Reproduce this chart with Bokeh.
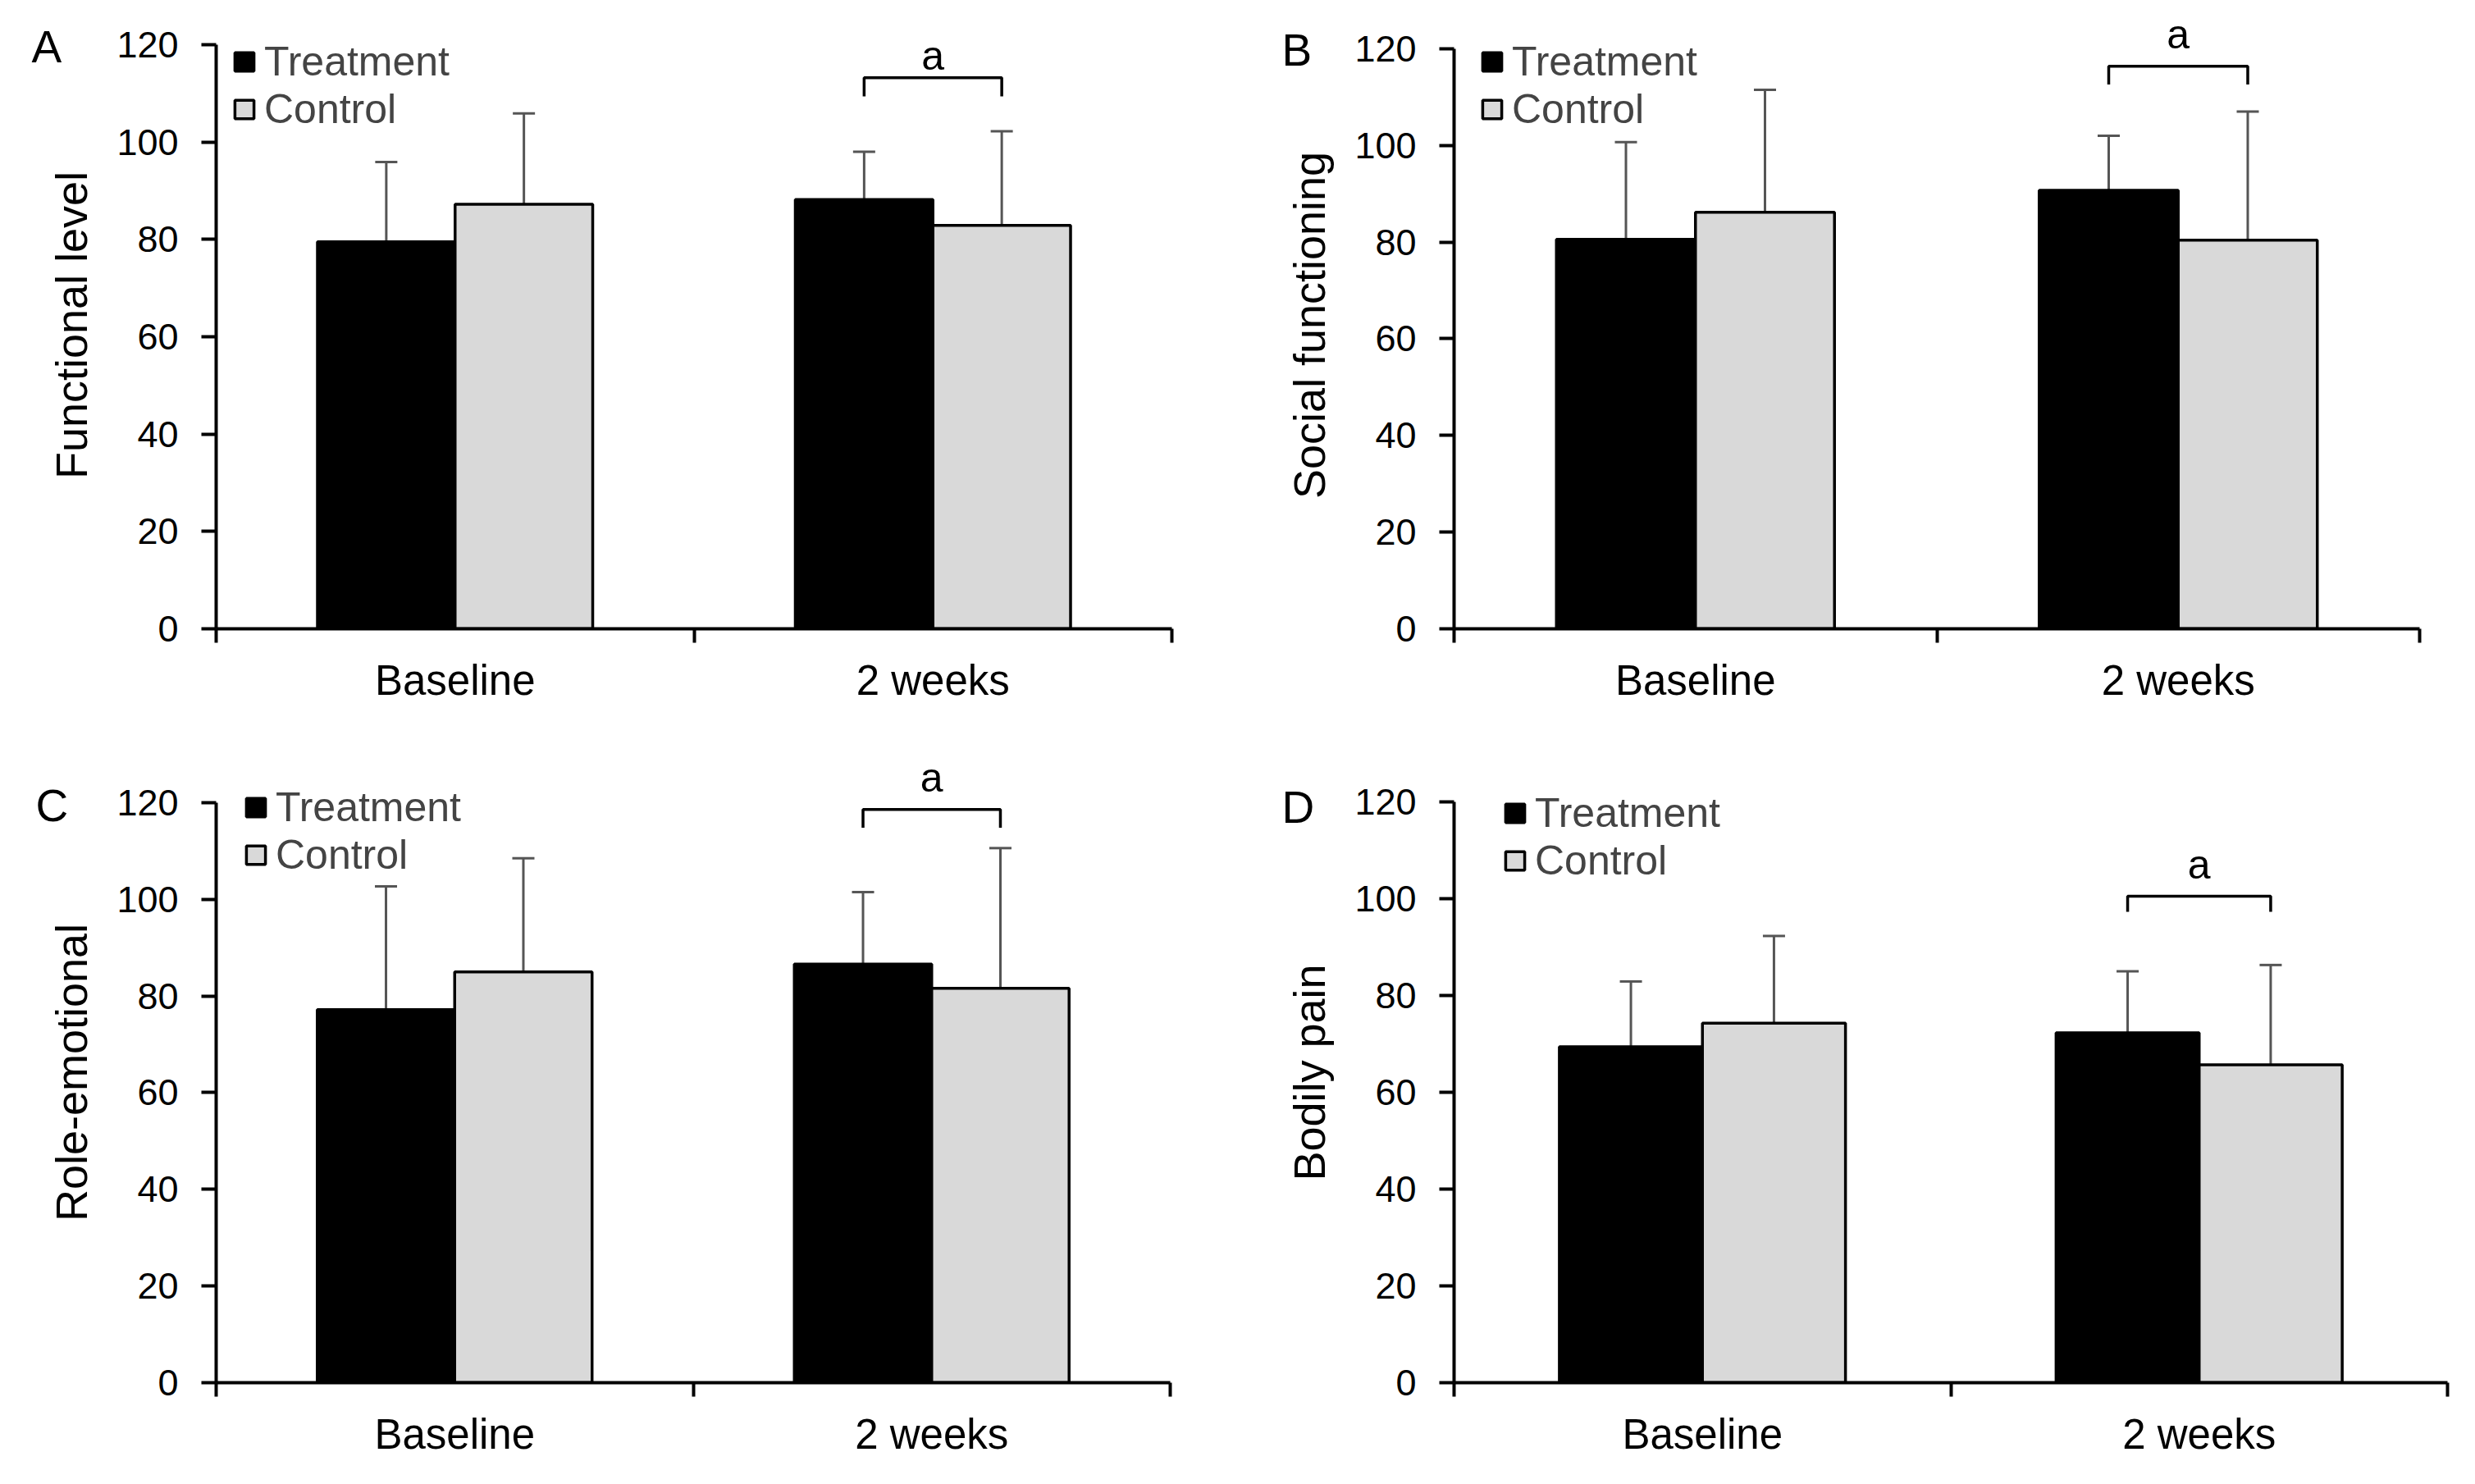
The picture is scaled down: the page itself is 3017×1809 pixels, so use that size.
from bokeh.plotting import figure
from bokeh.layouts import column, row
from bokeh.models import (FixedTicker, Range1d, Legend, LegendItem, Label,
                          ColumnDataSource, Whisker, TeeHead)
from bokeh.embed import file_html
from bokeh.resources import INLINE
from bokeh.core.properties import value

# ---------------- data ----------------
categories = ["Baseline", "2 weeks"]
series = ["Treatment", "Control"]
y_ticks = [0, 20, 40, 60, 80, 100, 120]

# A: Functional level
a_treatment = [79.5, 88.2]
a_treatment_sd = [16.4, 9.8]
a_control = [87.2, 82.9]
a_control_sd = [18.7, 19.3]

# B: Social functioning
b_treatment = [80.6, 90.7]
b_treatment_sd = [20.1, 11.3]
b_control = [86.2, 80.4]
b_control_sd = [25.3, 26.6]

# C: Role-emotional
c_treatment = [77.2, 86.6]
c_treatment_sd = [25.5, 14.9]
c_control = [85.0, 81.6]
c_control_sd = [23.5, 29.0]

# D: Bodily pain
d_treatment = [69.4, 72.3]
d_treatment_sd = [13.5, 12.7]
d_control = [74.3, 65.7]
d_control_sd = [18.0, 20.6]

panel_letters = ["A", "B", "C", "D"]
y_labels = ["Functional level", "Social functioning", "Role-emotional", "Bodily pain"]
# significance bracket ("a") at 2 weeks: bracket height, leg length, label height
bracket_top = [113.2, 116.4, 118.6, 100.5]
bracket_leg = [3.8, 3.8, 3.8, 3.2]
bracket_label_y = [117.8, 123.0, 125.2, 107.0]
sig_label = "a"

FONT = "Liberation Sans"
TICK_FS = "45px"
CAT_FS = "51px"
LEG_FS = "50px"
TITLE_FS = "54px"
TREAT_COLOR = "#000000"
CTRL_COLOR = "#d9d9d9"
ERR_COLOR = "#555555"
BAR_W = 0.288
OFFSET = 0.144

# per panel geometry: size, borders, y-range end, legend position, panel-letter position (canvas px)
layout = [
    dict(w=1508, h=904, l=263, r=80, t=26, b=138, yend=124.72, leg=(20, 604), letter=(38, 56)),
    dict(w=1500, h=904, l=264, r=59, t=26, b=138, yend=125.60, leg=(32, 604), letter=(54, 60)),
    dict(w=1508, h=897, l=263, r=82, t=25, b=116, yend=128.31, leg=(34, 614), letter=(43, 77)),
    dict(w=1500, h=897, l=264, r=25, t=25, b=116, yend=128.14, leg=(60, 607), letter=(54, 79)),
]

panels_data = [
    (a_treatment, a_treatment_sd, a_control, a_control_sd),
    (b_treatment, b_treatment_sd, b_control, b_control_sd),
    (c_treatment, c_treatment_sd, c_control, c_control_sd),
    (d_treatment, d_treatment_sd, d_control, d_control_sd),
]


def make_panel(i):
    t, tsd, c, csd = panels_data[i]
    L = layout[i]
    p = figure(width=L["w"], height=L["h"], output_backend="svg", toolbar_location=None,
               x_range=Range1d(0, len(categories)), y_range=Range1d(0, L["yend"]),
               min_border_left=L["l"], min_border_right=L["r"],
               min_border_top=L["t"], min_border_bottom=L["b"])
    p.outline_line_color = None
    p.grid.visible = False
    p.background_fill_color = "white"
    p.border_fill_color = "white"

    idx = list(range(len(categories)))
    xt = [k + 0.5 - OFFSET for k in idx]
    xc = [k + 0.5 + OFFSET for k in idx]

    src_t = ColumnDataSource(dict(x=xt, top=t, up=[v + s for v, s in zip(t, tsd)]))
    src_c = ColumnDataSource(dict(x=xc, top=c, up=[v + s for v, s in zip(c, csd)]))

    rt = p.vbar(x="x", top="top", width=BAR_W, source=src_t, fill_color=TREAT_COLOR,
                line_color="black", line_width=3.5)
    rc = p.vbar(x="x", top="top", width=BAR_W, source=src_c, fill_color=CTRL_COLOR,
                line_color="black", line_width=3.5)

    for src in (src_t, src_c):
        w = Whisker(source=src, base="x", lower="top", upper="up", dimension="height",
                    line_color=ERR_COLOR, line_width=3,
                    upper_head=TeeHead(size=27, line_color=ERR_COLOR, line_width=3),
                    lower_head=None)
        p.add_layout(w)

    # significance bracket at 2 weeks
    k = 1
    bt, bl = bracket_top[i], bracket_leg[i]
    p.line(x=[xt[k], xt[k], xc[k], xc[k]], y=[bt - bl, bt, bt, bt - bl],
           line_color="black", line_width=3.5)
    p.text(x=[(xt[k] + xc[k]) / 2], y=[bracket_label_y[i]], text=[sig_label],
           text_align="center", text_baseline="middle", text_font=value(FONT),
           text_font_size=LEG_FS, text_color="black")

    # x axis: labels centred on categories, ticks at category boundaries
    xa = p.xaxis[0]
    xa.ticker = FixedTicker(ticks=[k + 0.5 for k in idx], minor_ticks=list(range(len(categories) + 1)))
    xa.major_label_overrides = {k + 0.5: categories[k] for k in idx}
    xa.major_tick_out = 0
    xa.major_tick_in = 0
    xa.minor_tick_out = 17
    xa.minor_tick_in = 0
    xa.minor_tick_line_color = "black"
    xa.minor_tick_line_width = 4
    xa.axis_line_width = 4
    xa.axis_line_color = "black"
    xa.major_label_standoff = 17
    xa.major_label_text_font = FONT
    xa.major_label_text_font_size = CAT_FS
    xa.major_label_text_color = "black"

    ya = p.yaxis[0]
    ya.ticker = FixedTicker(ticks=y_ticks, minor_ticks=[])
    ya.bounds = (y_ticks[0], y_ticks[-1])
    ya.major_tick_out = 18
    ya.major_tick_in = 0
    ya.minor_tick_out = 0
    ya.minor_tick_in = 0
    ya.major_tick_line_width = 4
    ya.major_tick_line_color = "black"
    ya.axis_line_width = 4
    ya.axis_line_color = "black"
    ya.major_label_standoff = 28
    ya.major_label_text_font = FONT
    ya.major_label_text_font_size = TICK_FS
    ya.major_label_text_color = "black"
    ya.axis_label = y_labels[i]
    ya.axis_label_text_font = FONT
    ya.axis_label_text_font_size = TITLE_FS
    ya.axis_label_text_font_style = "normal"
    ya.axis_label_text_color = "black"
    ya.axis_label_standoff = 22

    legend = Legend(items=[LegendItem(label=series[0], renderers=[rt]),
                           LegendItem(label=series[1], renderers=[rc])],
                    location=L["leg"], margin=0, padding=0, spacing=0,
                    glyph_width=29, glyph_height=28, label_standoff=10,
                    label_text_font=FONT, label_text_font_size=LEG_FS,
                    border_line_alpha=0, background_fill_alpha=0)
    p.add_layout(legend)

    lx, ly = L["letter"]
    p.add_layout(Label(x=lx, y=ly, x_units="canvas", y_units="canvas",
                       text=panel_letters[i], text_font=FONT, text_font_size="55px",
                       text_baseline="middle", text_align="left", text_color="black"),
                 "left")
    return p


plots = [make_panel(i) for i in range(4)]
layout_obj = column(row(plots[0], plots[1]), row(plots[2], plots[3]))

open("out.html", "w").write(file_html(layout_obj, INLINE))
